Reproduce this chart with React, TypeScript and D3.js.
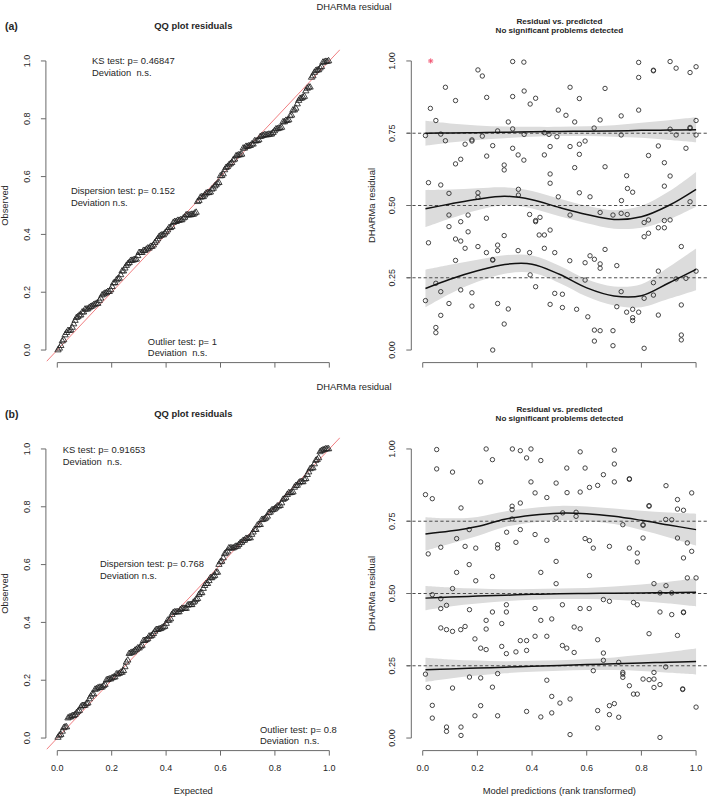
import React from 'react';
import * as d3 from 'd3';

const W = 709, H = 798;
const FONT = '"Liberation Sans", Arial, Helvetica, sans-serif';

// ---------- axis ticks ----------
const leftTicks = [0, 0.2, 0.4, 0.6, 0.8, 1.0];
const leftTickLabels = ['0.0', '0.2', '0.4', '0.6', '0.8', '1.0'];
const rightYTicks = [0, 0.25, 0.5, 0.75, 1.0];
const rightYTickLabels = ['0.00', '0.25', '0.50', '0.75', '1.00'];
const refLines = [0.25, 0.5, 0.75];

// ---------- quantile spline knots ----------
const knotX = [0.01, 0.1, 0.2, 0.3, 0.4, 0.5, 0.6, 0.7, 0.8, 0.9, 1.0];
// top (a)
const topQ25 = [0.213, 0.245, 0.274, 0.296, 0.297, 0.262, 0.215, 0.187, 0.188, 0.232, 0.279];
const topQ25Half = [0.065, 0.05, 0.038, 0.032, 0.03, 0.03, 0.03, 0.033, 0.04, 0.055, 0.072];
const topQ50 = [0.489, 0.505, 0.522, 0.532, 0.52, 0.493, 0.469, 0.452, 0.461, 0.5, 0.556];
const topQ50Half = [0.064, 0.05, 0.038, 0.031, 0.03, 0.03, 0.03, 0.032, 0.038, 0.048, 0.06];
const topQ75 = [0.75, 0.751, 0.752, 0.753, 0.755, 0.756, 0.757, 0.758, 0.76, 0.761, 0.762];
const topQ75Half = [0.043, 0.033, 0.025, 0.02, 0.017, 0.016, 0.017, 0.02, 0.026, 0.034, 0.043];
// bottom (b)
const botQ25 = [0.236, 0.239, 0.242, 0.245, 0.248, 0.251, 0.254, 0.257, 0.26, 0.262, 0.265];
const botQ25Half = [0.042, 0.033, 0.026, 0.021, 0.019, 0.018, 0.019, 0.022, 0.028, 0.036, 0.045];
const botQ50 = [0.484, 0.488, 0.491, 0.494, 0.497, 0.499, 0.5, 0.501, 0.502, 0.503, 0.504];
const botQ50Half = [0.042, 0.033, 0.026, 0.021, 0.019, 0.018, 0.019, 0.023, 0.029, 0.038, 0.049];
const botQ75 = [0.706, 0.716, 0.732, 0.757, 0.771, 0.778, 0.776, 0.767, 0.753, 0.737, 0.721];
const botQ75Half = [0.058, 0.044, 0.033, 0.027, 0.025, 0.025, 0.025, 0.027, 0.033, 0.043, 0.055];

// ---------- residuals: [model prediction (rank transformed), scaled residual] ----------
const topOutliers: [number, number][] = [[0.029, 1.0]];
const topPoints: [number, number][] = [
  [0.329,0.998],[0.370,0.996],[0.790,0.995],[0.905,0.998],[0.927,0.975],[1.0,0.98],[0.978,0.96],[0.844,0.968],[0.844,0.966],[0.202,0.969],
  [0.218,0.948],[0.790,0.943],[0.083,0.909],[0.539,0.909],[0.667,0.905],[0.371,0.896],[0.329,0.877],[0.234,0.874],[0.413,0.871],[0.573,0.870],
  [0.120,0.863],[0.393,0.851],[0.028,0.836],[0.496,0.830],[0.524,0.812],[0.790,0.830],[0.726,0.810],[0.048,0.794],[0.649,0.796],[0.556,0.789],
  [0.313,0.789],[0.627,0.768],[1.0,0.794],[0.905,0.764],[0.978,0.770],[0.978,0.767],[0.329,0.765],[0.274,0.758],[0.445,0.752],[0.010,0.742],
  [0.066,0.747],[0.218,0.740],[0.371,0.746],[0.462,0.746],[0.491,0.738],[0.726,0.744],[0.927,0.744],[1.0,0.744],[0.083,0.724],[0.180,0.723],
  [0.180,0.727],[0.155,0.712],[0.256,0.707],[0.329,0.698],[0.466,0.704],[0.539,0.704],[0.573,0.712],[0.594,0.723],[0.862,0.706],[0.963,0.698],
  [0.349,0.675],[0.370,0.657],[0.234,0.671],[0.445,0.675],[0.573,0.677],[0.826,0.673],[0.120,0.644],[0.139,0.660],[0.298,0.640],[0.298,0.623],
  [0.556,0.631],[0.667,0.634],[0.884,0.648],[0.466,0.609],[0.905,0.602],[0.746,0.603],
  [0.021,0.579],[0.066,0.571],[0.466,0.577],[0.884,0.567],[0.749,0.559],[0.350,0.556],[0.768,0.546],[0.096,0.542],[0.202,0.544],[0.202,0.528],
  [0.350,0.536],[0.573,0.544],[0.612,0.530],[0.496,0.530],[0.727,0.517],[0.978,0.513],
  [0.096,0.467],[0.166,0.467],[0.139,0.444],[0.233,0.456],[0.391,0.469],[0.413,0.444],[0.413,0.448],[0.429,0.459],[0.539,0.467],[0.649,0.476],
  [0.696,0.467],[0.726,0.473],[0.748,0.469],[0.810,0.441],[0.826,0.450],[0.884,0.448],[0.905,0.450],[0.884,0.423],[0.862,0.423],[0.096,0.427],
  [0.021,0.371],[0.120,0.384],[0.139,0.377],[0.155,0.352],[0.166,0.409],[0.120,0.310],[0.202,0.358],[0.233,0.337],[0.256,0.311],[0.256,0.313],
  [0.274,0.363],[0.274,0.344],[0.298,0.396],[0.349,0.344],[0.391,0.337],[0.393,0.260],[0.413,0.219],[0.426,0.398],[0.445,0.398],[0.466,0.415],
  [0.445,0.352],[0.483,0.337],[0.538,0.309],[0.594,0.302],[0.594,0.242],[0.612,0.326],[0.628,0.314],[0.649,0.298],[0.649,0.283],[0.667,0.348],
  [0.710,0.292],[0.810,0.392],[0.826,0.404],[0.946,0.358],[1.0,0.273],[0.927,0.246],[0.963,0.248],
  [0.048,0.231],[0.066,0.202],[0.010,0.171],[0.139,0.208],[0.180,0.198],[0.096,0.161],[0.180,0.152],[0.066,0.120],[0.048,0.078],[0.048,0.060],
  [0.256,0.0],[0.274,0.161],[0.313,0.142],[0.298,0.090],[0.466,0.158],[0.483,0.196],[0.511,0.193],[0.511,0.147],[0.563,0.141],[0.604,0.115],
  [0.628,0.069],[0.628,0.031],[0.649,0.067],[0.696,0.067],[0.696,0.015],[0.710,0.150],[0.726,0.202],[0.746,0.131],[0.768,0.141],[0.768,0.112],
  [0.768,0.102],[0.790,0.131],[0.810,0.179],[0.810,0.006],[0.844,0.190],[0.844,0.233],[0.862,0.273],[0.862,0.121],[0.946,0.156],[0.946,0.052],
  [0.946,0.035],
];
const botOutliers: [number, number][] = [];
const botPoints: [number, number][] = [
  [0.051,0.998],[0.232,1.0],[0.328,1.0],[0.357,0.994],[0.396,1.0],[0.576,0.99],[0.701,0.996],[0.380,0.969],[0.255,0.963],[0.432,0.96],
  [0.701,0.948],[0.051,0.931],[0.527,0.934],[0.594,0.934],[0.109,0.92],[0.661,0.911],[0.212,0.886],[0.396,0.886],[0.488,0.882],[0.701,0.886],
  [0.756,0.897],[0.756,0.895],[0.610,0.867],[0.640,0.874],[0.890,0.873],[0.010,0.842],[0.035,0.828],[0.411,0.848],[0.454,0.832],[0.528,0.849],
  [0.576,0.851],[0.932,0.825],[0.984,0.848],[0.140,0.796],[0.327,0.802],[0.327,0.790],[0.357,0.813],[0.828,0.804],[0.828,0.802],[0.932,0.792],
  [0.954,0.788],[0.488,0.761],[0.561,0.781],[0.561,0.767],[0.512,0.779],[0.327,0.758],[0.889,0.756],[0.911,0.755],[0.732,0.738],[0.806,0.738],
  [0.806,0.736],[0.170,0.721],[0.307,0.712],[0.357,0.721],[0.411,0.704],[0.124,0.690],[0.341,0.677],[0.454,0.684],[0.594,0.690],[0.610,0.683],
  [0.806,0.692],[0.932,0.692],[0.968,0.675],[0.020,0.637],[0.066,0.660],[0.155,0.663],[0.194,0.657],[0.274,0.669],[0.274,0.657],[0.624,0.657],
  [0.683,0.663],[0.756,0.657],[0.785,0.640],[0.984,0.646],[0.785,0.609],[0.488,0.611],[0.954,0.623],[0.170,0.600],[0.124,0.573],[0.432,0.573],
  [0.610,0.562],[0.255,0.559],[0.194,0.544],[0.968,0.554],[1.0,0.554],[0.488,0.534],[0.846,0.534],[0.890,0.527],[0.109,0.517],
  [0.035,0.496],[0.066,0.482],[0.066,0.448],[0.087,0.459],[0.171,0.444],[0.255,0.436],[0.306,0.461],[0.306,0.436],[0.411,0.448],[0.511,0.461],
  [0.576,0.448],[0.609,0.448],[0.661,0.479],[0.683,0.473],[0.771,0.469],[0.785,0.461],[0.868,0.502],[0.911,0.502],[0.868,0.436],[0.911,0.427],
  [0.954,0.436],[0.954,0.434],
  [0.066,0.381],[0.087,0.375],[0.109,0.369],[0.155,0.386],[0.139,0.375],[0.191,0.343],[0.232,0.407],[0.232,0.377],[0.212,0.311],[0.232,0.306],
  [0.289,0.396],[0.289,0.317],[0.306,0.292],[0.341,0.298],[0.357,0.337],[0.380,0.337],[0.380,0.303],[0.411,0.352],[0.432,0.407],[0.454,0.352],
  [0.472,0.412],[0.511,0.320],[0.527,0.311],[0.554,0.384],[0.576,0.378],[0.554,0.296],[0.640,0.340],[0.661,0.294],[0.661,0.269],[0.717,0.262],
  [0.932,0.355],[0.828,0.361],[0.889,0.246],
  [0.010,0.221],[0.020,0.175],[0.035,0.113],[0.035,0.069],[0.087,0.038],[0.087,0.023],[0.109,0.173],[0.140,0.038],[0.140,0.009],[0.171,0.211],
  [0.191,0.077],[0.212,0.208],[0.212,0.112],[0.255,0.176],[0.274,0.223],[0.274,0.077],[0.380,0.092],[0.432,0.073],[0.454,0.200],[0.472,0.144],
  [0.472,0.087],[0.502,0.121],[0.539,0.135],[0.539,0.012],[0.624,0.233],[0.640,0.095],[0.640,0.035],[0.683,0.112],[0.683,0.081],[0.701,0.119],
  [0.717,0.072],[0.732,0.227],[0.732,0.221],[0.732,0.210],[0.756,0.181],[0.771,0.152],[0.785,0.152],[0.806,0.204],[0.828,0.202],[0.846,0.204],
  [0.846,0.227],[0.846,0.175],[0.868,0.185],[0.868,0.002],[0.951,0.170],[0.951,0.168],[1.0,0.107],
];

// ---------- texts ----------
const topTests = [
  { lines: ['KS test: p= 0.46847', 'Deviation  n.s.'], x: 0.128, y: 1.0 },
  { lines: ['Dispersion test: p= 0.152', 'Deviation n.s.'], x: 0.05, y: 0.552 },
  { lines: ['Outlier test: p= 1', 'Deviation  n.s.'], x: 0.333, y: 0.03 },
];
const botTests = [
  { lines: ['KS test: p= 0.91653', 'Deviation  n.s.'], x: 0.02, y: 0.997 },
  { lines: ['Dispersion test: p= 0.768', 'Deviation n.s.'], x: 0.157, y: 0.603 },
  { lines: ['Outlier test: p= 0.8', 'Deviation  n.s.'], x: 0.745, y: 0.03 },
];

// ---------- scales ----------
const DOM: [number, number] = [-0.04, 1.04];
const xL = d3.scaleLinear().domain(DOM).range([46.4, 340.2]);
const xR = d3.scaleLinear().domain(DOM).range([411.8, 707]);
const yScale = (off: number) => d3.scaleLinear().domain(DOM).range([361.6 + off, 49.4 + off]);

const AX = '#6a6a6a';
const TXT = '#262626';
const PT = '#303030';

function QQPanel({ pts, off, tests, tag, xLabels }: any) {
  const y = yScale(off);
  const obs = pts.map((p: [number, number]) => p[1]).sort(d3.ascending);
  const n = obs.length;
  const tri = d3.symbol().type(d3.symbolTriangle).size(17)();
  const x0 = xL.range()[0], x1 = xL.range()[1];
  const y0 = y.range()[0], y1 = y.range()[1];
  const clipId = 'clipqq' + off;
  return (
    <g>
      <defs><clipPath id={clipId}><rect x={x0} y={y1} width={x1 - x0} height={y0 - y1} /></clipPath></defs>
      <text x={5} y={y(1) - 30.5} fontWeight="bold" fontSize={10.5} fill={TXT}>{tag}</text>
      <text x={(x0 + x1) / 2} y={y(1) - 31.5} textAnchor="middle" fontWeight="bold" fontSize={9.4} fill={TXT}>QQ plot residuals</text>
      <g clipPath={`url(#${clipId})`}>
        <line x1={xL(DOM[0])} y1={y(DOM[0])} x2={xL(DOM[1])} y2={y(DOM[1])} stroke="#ee6f73" strokeWidth={0.9} />
        {obs.map((v: number, i: number) => (
          <path key={i} d={tri as string} transform={`translate(${xL((i + 0.5) / n)},${y(v)})`} fill="none" stroke="#222" strokeWidth={0.85} />
        ))}
      </g>
      {/* y axis */}
      <line x1={x0 - 0.5} x2={x0 - 0.5} y1={y(0)} y2={y(1)} stroke={AX} />
      {leftTicks.map((t, i) => (
        <g key={i}>
          <line x1={x0 - 0.5} x2={x0 - 5.5} y1={y(t)} y2={y(t)} stroke={AX} />
          <text transform={`translate(${27},${y(t)}) rotate(-90)`} textAnchor="middle" dy="0.35em" fontSize={9} fill={TXT}>{leftTickLabels[i]}</text>
        </g>
      ))}
      {/* x axis */}
      <line x1={xL(0)} x2={xL(1)} y1={y0 + 1} y2={y0 + 1} stroke={AX} />
      {leftTicks.map((t, i) => (
        <g key={i}>
          <line x1={xL(t)} x2={xL(t)} y1={y0 + 1} y2={y0 + 6} stroke={AX} />
          {xLabels && <text x={xL(t)} y={y0 + 18.5} textAnchor="middle" dy="0.35em" fontSize={9} fill={TXT}>{leftTickLabels[i]}</text>}
        </g>
      ))}
      {xLabels && <text x={(x0 + x1) / 2} y={y0 + 41} textAnchor="middle" dy="0.35em" fontSize={9.4} fill={TXT}>Expected</text>}
      <text transform={`translate(${5},${(y0 + y1) / 2}) rotate(-90)`} textAnchor="middle" dy="0.35em" fontSize={9.4} fill={TXT}>Observed</text>
      {tests.map((t: any, i: number) => (
        <text key={i} fontSize={9.4} fill={TXT} style={{ whiteSpace: 'pre' }}>
          {t.lines.map((l: string, j: number) => (
            <tspan key={j} x={xL(t.x)} y={y(t.y) + 3.4 + j * 11.7}>{l}</tspan>
          ))}
        </text>
      ))}
    </g>
  );
}

function ResPanel({ pts, outl, off, curves, xLabels }: any) {
  const y = yScale(off);
  const x0 = xR.range()[0], x1 = xR.range()[1];
  const y0 = y.range()[0], y1 = y.range()[1];
  const clipId = 'clipres' + off;
  const line = d3.line<number>().x((_, i) => xR(knotX[i])).y((d) => y(d)).curve(d3.curveCatmullRom);
  return (
    <g>
      <defs><clipPath id={clipId}><rect x={x0 - 6} y={y1} width={x1 - x0 + 8} height={y0 - y1} /></clipPath></defs>
      <text x={(x0 + x1) / 2} y={y(1) - 37} textAnchor="middle" fontWeight="bold" fontSize={8.1} fill={TXT}>Residual vs. predicted</text>
      <text x={(x0 + x1) / 2} y={y(1) - 28} textAnchor="middle" fontWeight="bold" fontSize={8.1} fill={TXT}>No significant problems detected</text>
      <g clipPath={`url(#${clipId})`}>
        {curves.map((c: any, k: number) => {
          const area = d3.area<number>()
            .x((_, i) => xR(knotX[i]))
            .y0((d, i) => y(d - c.half[i]))
            .y1((d, i) => y(d + c.half[i]))
            .curve(d3.curveCatmullRom);
          return <path key={k} d={area(c.mean) as string} fill="#dcdcdc" stroke="none" />;
        })}
        {refLines.map((r, i) => (
          <line key={i} x1={x0 - 5} x2={x1 + 1} y1={y(r)} y2={y(r)} stroke="#3a3a3a" strokeWidth={0.9} strokeDasharray="3.2,2.4" />
        ))}
        {pts.map((p: [number, number], i: number) => (
          <circle key={i} cx={xR(p[0])} cy={y(p[1])} r={2.2} fill="none" stroke={PT} strokeWidth={0.9} />
        ))}
        {outl.map((p: [number, number], i: number) => {
          const cx = xR(p[0]), cy = y(p[1]), s = 2.6;
          return (
            <g key={'o' + i} stroke="#f0506e" strokeWidth={0.9}>
              <line x1={cx - s} x2={cx + s} y1={cy} y2={cy} />
              <line x1={cx} x2={cx} y1={cy - s} y2={cy + s} />
              <line x1={cx - s * 0.72} x2={cx + s * 0.72} y1={cy - s * 0.72} y2={cy + s * 0.72} />
              <line x1={cx - s * 0.72} x2={cx + s * 0.72} y1={cy + s * 0.72} y2={cy - s * 0.72} />
            </g>
          );
        })}
        {curves.map((c: any, k: number) => (
          <path key={k} d={line(c.mean) as string} fill="none" stroke="#111" strokeWidth={1.5} />
        ))}
      </g>
      <line x1={x0 - 0.5} x2={x0 - 0.5} y1={y(0)} y2={y(1)} stroke={AX} />
      {rightYTicks.map((t, i) => (
        <g key={i}>
          <line x1={x0 - 0.5} x2={x0 - 5.5} y1={y(t)} y2={y(t)} stroke={AX} />
          <text transform={`translate(${391.7},${y(t)}) rotate(-90)`} textAnchor="middle" dy="0.35em" fontSize={9} fill={TXT}>{rightYTickLabels[i]}</text>
        </g>
      ))}
      <line x1={xR(0)} x2={xR(1)} y1={y0 + 1} y2={y0 + 1} stroke={AX} />
      {leftTicks.map((t, i) => (
        <g key={i}>
          <line x1={xR(t)} x2={xR(t)} y1={y0 + 1} y2={y0 + 6} stroke={AX} />
          {xLabels && <text x={xR(t)} y={y0 + 18.5} textAnchor="middle" dy="0.35em" fontSize={9} fill={TXT}>{leftTickLabels[i]}</text>}
        </g>
      ))}
      {xLabels && <text x={(x0 + x1) / 2} y={y0 + 41} textAnchor="middle" dy="0.35em" fontSize={9.4} fill={TXT}>Model predictions (rank transformed)</text>}
      <text transform={`translate(${371.7},${(y0 + y1) / 2}) rotate(-90)`} textAnchor="middle" dy="0.35em" fontSize={9.4} fill={TXT}>DHARMa residual</text>
    </g>
  );
}

export default function App() {
  const topCurves = [
    { mean: topQ25, half: topQ25Half },
    { mean: topQ50, half: topQ50Half },
    { mean: topQ75, half: topQ75Half },
  ];
  const botCurves = [
    { mean: botQ25, half: botQ25Half },
    { mean: botQ50, half: botQ50Half },
    { mean: botQ75, half: botQ75Half },
  ];
  const allTop = [...topPoints, ...topOutliers];
  const allBot = [...botPoints, ...botOutliers];
  return (
    <svg width={W} height={H} style={{ position: 'absolute', left: 0, top: 0, background: '#fff' }} fontFamily={FONT}>
      <rect width={W} height={H} fill="#fff" />
      <text x={354} y={9.5} textAnchor="middle" fontSize={9.4} fill={TXT}>DHARMa residual</text>
      <text x={354} y={389.5} textAnchor="middle" fontSize={9.4} fill={TXT}>DHARMa residual</text>
      <QQPanel pts={allTop} off={0} tests={topTests} tag="(a)" xLabels={false} />
      <ResPanel pts={topPoints} outl={topOutliers} off={0} curves={topCurves} xLabels={false} />
      <QQPanel pts={allBot} off={388} tests={botTests} tag="(b)" xLabels={true} />
      <ResPanel pts={botPoints} outl={botOutliers} off={388} curves={botCurves} xLabels={true} />
    </svg>
  );
}
